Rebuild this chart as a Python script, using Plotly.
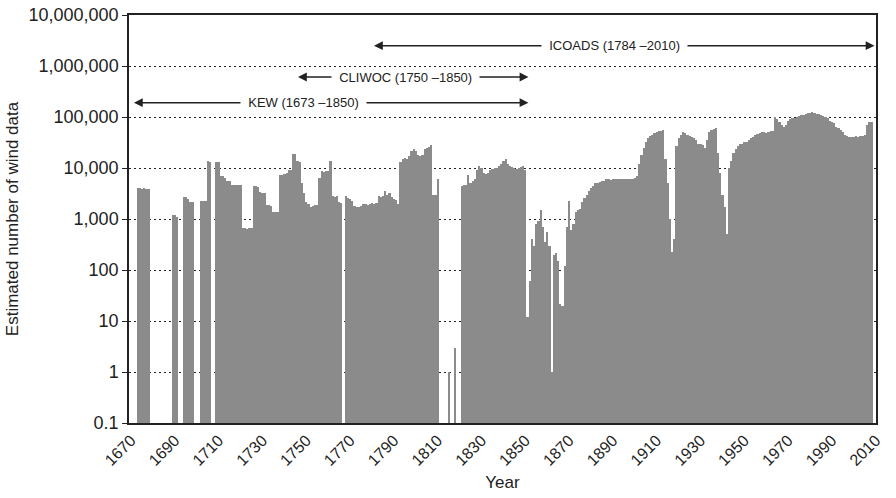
import plotly.graph_objects as go

# ---- data (estimated number of wind data per year) ----
years = list(range(1670, 2009))

d1670 = [None, None, None, 4000, 4000, 3900, 4000, 3900, 3900, None]
d1680 = [None, None, None, None, None, None, None, None, None, 1200]
d1690 = [1200, 1100, None, None, 2700, 2700, 2500, 2200, 2200, None]
d1700 = [None, None, 2300, 2300, 2300, 14000, 13000, None, None, 13000]
d1710 = [13000, 6900, 6900, 6500, 5500, 5500, 4700, 4700, 4600, 4700]
d1720 = [4700, 660, 660, 650, 660, 660, 4500, 4500, 4300, 3400]
d1730 = [3300, 3300, 1900, 1900, 1800, 1400, 1400, 1350, 7400, 7200]
d1740 = [7600, 8000, 9300, 9300, 18800, 18500, 13500, 13000, 5100, 3300]
d1750 = [2200, 2000, 1750, 1800, 1900, 1900, 6400, 8600, 8500, 8700]
d1760 = [8800, 13500, 2800, 2700, 2800, 2200, 2100, None, 2800, 2600]
d1770 = [2500, 2300, 1800, 1700, 1700, 1800, 2000, 2000, 1900, 2000]
d1780 = [2100, 2000, 2100, 2800, 2700, 2800, 3500, 2900, 3300, 2700]
d1790 = [2500, 2400, 2000, 13000, 15000, 16000, 15000, 17000, 22000, 24000]
d1800 = [22000, 18000, 17000, 18000, 24000, 25000, 26000, 28000, 3000, 2900]
d1810 = [6000, None, None, None, None, 1, None, None, 3, None]
d1820 = [None, 4500, 4600, 4600, 7200, 5000, 5500, 6000, 9000, 11000]
d1830 = [10000, 8000, 7500, 8000, 9000, 9500, 10000, 10000, 11000, 12000]
d1840 = [14000, 15000, 12000, 11000, 10500, 10000, 9500, 10000, 10500, 11000]
d1850 = [9000, 12, 60, 400, 300, 800, 900, 1500, 700, 350]
d1860 = [550, 300, 1, 200, 220, 150, 22, 20, 120, 700]
d1870 = [2300, 600, 800, 1400, 1500, 1600, 2200, 2600, 3000, 3500]
d1880 = [4000, 4500, 5000, 5000, 5200, 5500, 5500, 6000, 6000, 5800]
d1890 = [6000, 6200, 6000, 6100, 6000, 6000, 6200, 6200, 6000, 6200]
d1900 = [6500, 7000, 12000, 18000, 25000, 32000, 38000, 42000, 45000, 48000]
d1910 = [50000, 52000, 54000, 56000, 15000, 5000, 1000, 230, 400, 27000]
d1920 = [38000, 45000, 50000, 48000, 45000, 43000, 40000, 38000, 35000, 30000]
d1930 = [30000, 28000, 25000, 35000, 50000, 55000, 58000, 62000, 20000, 8000]
d1940 = [3000, 1700, 500, 10000, 14000, 20000, 24000, 27000, 29000, 30000]
d1950 = [32000, 33000, 35000, 38000, 40000, 45000, 47000, 48000, 50000, 50000]
d1960 = [48000, 50000, 52000, 52000, 100000, 90000, 80000, 70000, 65000, 70000]
d1970 = [85000, 90000, 95000, 95000, 100000, 105000, 110000, 110000, 115000, 120000]
d1980 = [120000, 125000, 120000, 115000, 115000, 110000, 105000, 100000, 95000, 85000]
d1990 = [80000, 75000, 65000, 60000, 55000, 50000, 45000, 42000, 40000, 40000]
d2000 = [40000, 42000, 41000, 42000, 43000, 45000, 70000, 80000, 80000]

counts = (d1670 + d1680 + d1690 + d1700 + d1710 + d1720 + d1730 + d1740 + d1750
          + d1760 + d1770 + d1780 + d1790 + d1800 + d1810 + d1820 + d1830 + d1840
          + d1850 + d1860 + d1870 + d1880 + d1890 + d1900 + d1910 + d1920 + d1930
          + d1940 + d1950 + d1960 + d1970 + d1980 + d1990 + d2000)

x_ticks = [1670, 1690, 1710, 1730, 1750, 1770, 1790, 1810, 1830, 1850,
           1870, 1890, 1910, 1930, 1950, 1970, 1990, 2010]
x_tick_labels = [str(v) for v in x_ticks]
y_ticks = [0.1, 1, 10, 100, 1000, 10000, 100000, 1000000, 10000000]
y_tick_labels = ["0.1", "1", "10", "100", "1,000", "10,000", "100,000",
                 "1,000,000", "10,000,000"]

source_labels = ["ICOADS (1784 \u20132010)", "CLIWOC (1750 \u20131850)", "KEW (1673 \u20131850)"]

FONT = "Liberation Sans, Arial, sans-serif"
INK = "#222222"

fig = go.Figure(
    go.Bar(
        x=years,
        y=counts,
        width=1.0,
        marker=dict(color="#8b8b8b", line=dict(width=0)),
        hoverinfo="x+y",
    )
)

annotations = []
# (left arrow tip, right arrow tip, label centre, level as log10)
arrow_specs = [
    (1780.9, 2010.1, 1890.9, 6.398),
    (1746.2, 1852.1, 1795.3, 5.784),
    (1671.3, 1852.1, 1748.9, 5.28),
]
for label, (x0, x1, xc, lev) in zip(source_labels, arrow_specs):
    annotations.append(dict(
        x=x0, y=lev, xref="x", yref="y",
        ax=x1, ay=lev, axref="x", ayref="y",
        text="", showarrow=True,
        arrowhead=2, startarrowhead=2, arrowside="end+start",
        arrowsize=1.1, startarrowsize=1.1, arrowwidth=1.6,
        arrowcolor=INK, standoff=0, startstandoff=0,
    ))
for label, (x0, x1, xc, lev) in zip(source_labels, arrow_specs):
    annotations.append(dict(
        x=xc, y=lev, xref="x", yref="y",
        text="\u00a0\u00a0" + label + "\u00a0\u00a0", showarrow=False,
        font=dict(family=FONT, size=13, color=INK),
        bgcolor="white", borderpad=0,
    ))

fig.update_layout(
    width=896, height=498,
    margin=dict(l=129, r=20, t=15, b=75),
    paper_bgcolor="white", plot_bgcolor="white",
    bargap=0, showlegend=False,
    font=dict(family=FONT, color=INK),
    annotations=annotations,
    xaxis=dict(
        range=[1669.04, 2010.1], automargin=False,
        tickmode="array", tickvals=x_ticks, ticktext=x_tick_labels,
        tickangle=-45, tickfont=dict(family=FONT, size=16, color=INK),
        ticklabeloverflow="allow",
        showline=True, linecolor=INK, linewidth=1.5, mirror=True,
        showgrid=False, zeroline=False, ticks="",
        title=dict(text="Year", font=dict(family=FONT, size=17, color=INK), standoff=8),
    ),
    yaxis=dict(
        type="log", range=[-1, 7], automargin=False,
        tickmode="array", tickvals=y_ticks, ticktext=y_tick_labels,
        tickfont=dict(family=FONT, size=18, color=INK),
        ticklabeloverflow="allow",
        showline=True, linecolor=INK, linewidth=1.5, mirror=True,
        ticks="outside", ticklen=5, tickcolor=INK, tickwidth=1,
        showgrid=True, gridcolor=INK, gridwidth=1, griddash="2px,3px",
        zeroline=False,
        title=dict(text="Estimated number of wind data",
                   font=dict(family=FONT, size=17, color=INK), standoff=6),
    ),
)

# remove the browser's default 8px page margin so the 896x498 figure fills the window
fig.write_html(
    "out.html",
    config={"displayModeBar": False},
    post_script="document.body.style.margin = '0px';",
)
